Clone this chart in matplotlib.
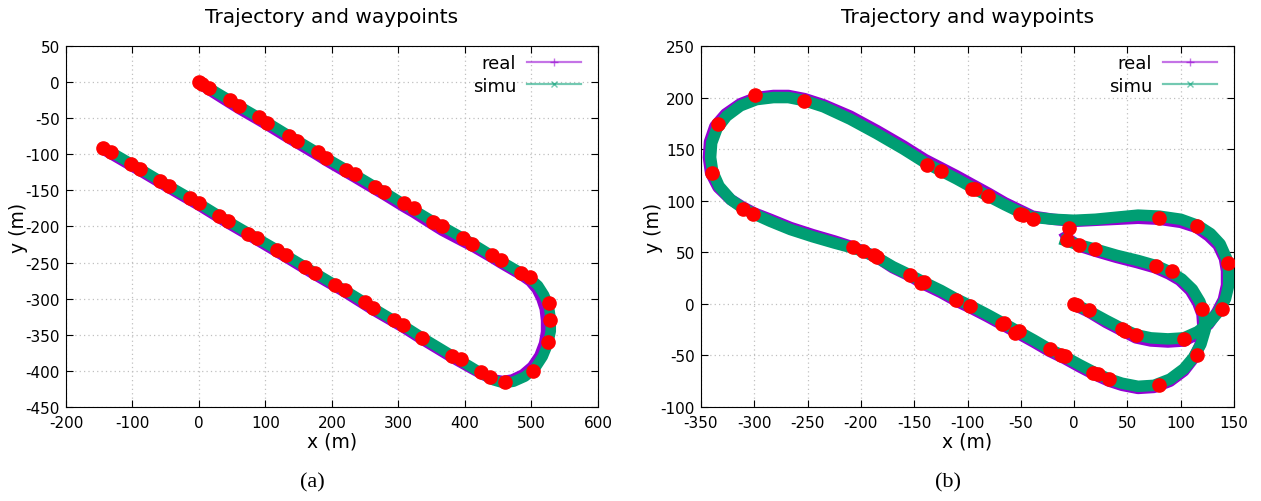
import numpy as np
import matplotlib.pyplot as plt
from matplotlib.lines import Line2D

plt.rcParams['axes.unicode_minus'] = False

### colours (gnuplot defaults)
PURPLE = '#9400d3'
GREEN = '#009e73'
RED = '#ff0000'

### (a) trajectory
simu_a_x = [0, 15, 46, 60, 90, 103, 135, 148, 179, 191, 221, 234, 265, 278, 308, 323, 352, 366, 397, 410,
            440, 454, 484, 498, 510, 519, 526, 529, 529, 525, 517, 505, 490, 473, 458, 443, 428, 410, 381,
            336, 307, 293, 262, 249, 219, 205, 174, 160, 131, 117, 87, 74, 44, 30, 0, -13, -45, -58, -89,
            -102, -132, -145]
simu_a_y = [0, -8, -25, -33, -49, -56, -74, -81, -98, -105, -121, -128, -145, -152, -169, -177, -193, -200,
            -216, -223, -240, -248, -264, -272, -282, -295, -310, -328, -345, -362, -380, -397, -408, -415,
            -417, -413, -405, -395, -379, -354, -337, -330, -313, -305, -288, -281, -264, -256, -240, -232,
            -216, -209, -193, -185, -168, -161, -144, -137, -120, -113, -97, -91]
real_a_x = [0, 15, 46, 60, 90, 103, 135, 148, 179, 191, 221, 234, 265, 278, 308, 323, 352, 366, 397, 410,
            440, 454, 484, 498, 508, 515, 520, 522, 522, 519, 512, 501, 487, 471, 457, 443, 428, 410, 381,
            336, 307, 262, 219, 174, 131, 87, 44, 0, -45, -89, -132, -145]
real_a_y = [-2, -11, -29, -37, -53, -60, -78, -85, -102, -109, -125, -132, -149, -156, -173, -181, -198,
            -206, -221, -227, -243, -251, -267, -276, -287, -300, -314, -330, -346, -362, -379, -394, -405,
            -412, -414, -412, -406, -397, -382, -357, -340, -316, -291, -267, -243, -219, -196, -171, -147,
            -123, -100, -93]
wp_a_x = [0, 5, 15, 46, 60, 90, 103, 135, 148, 179, 191, 221, 234, 265, 278, 308, 323, 352, 366, 397, 410,
          440, 454, 484, 498, 526, 528, 525, 502, 460, 437, 424, 394, 381, 336, 307, 293, 262, 249, 219,
          205, 174, 160, 131, 117, 87, 74, 44, 30, 0, -13, -45, -58, -89, -102, -132, -145]
wp_a_y = [0, -3, -8, -25, -33, -48, -56, -74, -81, -97, -105, -122, -128, -145, -152, -168, -175, -194,
          -200, -216, -224, -240, -247, -265, -270, -306, -329, -360, -400, -415, -408, -401, -384, -379,
          -354, -336, -330, -313, -305, -288, -281, -264, -256, -240, -233, -216, -210, -193, -185, -167,
          -160, -144, -137, -120, -113, -97, -91]

### (b) trajectory
simu_b_x = [0, 14, 30, 45, 58, 72, 88, 103, 116, 127, 136, 142, 145, 145, 143, 137, 128, 116, 100, 80, 60,
            40, 20, 0, -20, -39, -51, -65, -80, -96, -110, -125, -140, -160, -185, -210, -235, -253, -268,
            -282, -298, -313, -326, -335, -340, -341, -339, -333, -322, -311, -300, -285, -266, -245, -225,
            -207, -198, -185, -170, -154, -141, -125, -111, -97, -82, -66, -52, -38, -23, -9, 5, 20, 33, 45,
            60, 75, 90, 103, 112, 119, 123, 122, 118, 111, 101, 90, 77, 60, 40, 20, 5, -7, -13]
simu_b_y = [0, -7, -16, -24, -30, -33, -34, -33, -27, -18, -7, 5, 18, 32, 44, 58, 68, 76, 82, 85, 86, 84,
            82, 81, 82, 84, 89, 96, 104, 113, 121, 129, 137, 150, 165, 179, 191, 197, 200, 200, 198, 192,
            182, 170, 156, 142, 128, 114, 101, 93, 87, 80, 72, 65, 59, 54, 51, 45, 36, 28, 21, 13, 5, -2,
            -10, -19, -27, -35, -44, -51, -59, -67, -73, -77, -80, -79, -73, -63, -52, -39, -25, -10, 2, 14,
            24, 31, 37, 42, 47, 53, 57, 61, 63]
real_b_x = [0, 14, 30, 45, 58, 72, 88, 103, 116, 126, 134, 140, 143, 143, 141, 135, 126, 115, 100, 80, 60,
            40, 20, 0, -20, -39, -51, -65, -80, -96, -110, -125, -140, -160, -185, -210, -235, -253, -268,
            -282, -298, -313, -327, -337, -342, -343, -341, -334, -322, -311, -300, -285, -266, -245, -225,
            -207, -198, -185, -170, -154, -141, -125, -111, -97, -82, -66, -52, -38, -23, -9, 5, 20, 33, 45,
            60, 75, 90, 103, 112, 118, 121, 120, 116, 109, 99, 89, 76, 59, 40, 20, 5, -6, -10]
real_b_y = [-1, -8, -18, -26, -33, -36, -37, -36, -29, -20, -8, 4, 18, 32, 44, 57, 66, 74, 79, 82, 83, 82,
            81, 80, 82, 85, 91, 98, 107, 116, 124, 132, 140, 153, 168, 182, 193, 199, 202, 202, 200, 194,
            184, 172, 157, 142, 127, 113, 101, 94, 88, 82, 74, 67, 61, 55, 51, 45, 35, 27, 19, 11, 3, -4,
            -12, -21, -29, -37, -46, -53, -61, -69, -75, -79, -82, -81, -75, -65, -53, -40, -25, -10, 1, 13,
            23, 29, 35, 40, 45, 51, 56, 63, 70]
wp_b_x = [0, 3, 14, 45, 48, 58, 103, 139, 144, 115, 80, -5, -7, 5, 20, 77, 92, 120, 115, 80, 33, 22, 18,
          -9, -12, -23, -52, -55, -66, -68, -98, -111, -141, -144, -154, -185, -188, -198, -207, -301, -311,
          -340, -334, -299, -253, -138, -125, -96, -93, -81, -51, -48, -39]
wp_b_y = [0, -1, -6, -24, -26, -30, -34, -5, 40, 75, 83, 74, 62, 57, 53, 37, 32, -5, -50, -79, -73, -68,
          -67, -51, -50, -44, -26, -28, -19, -20, -2, 4, 21, 20, 28, 45, 47, 51, 55, 87, 92, 127, 174, 202,
          197, 135, 129, 111, 111, 105, 87, 86, 82]

fig = plt.figure(figsize=(12.61, 5.02), dpi=100)
ax1 = fig.add_axes([0.0523, 0.1873, 0.4219, 0.7191])
ax2 = fig.add_axes([0.5559, 0.1873, 0.4227, 0.7191])


def draw(ax, rx, ry, sx, sy, wx, wy, lw):
    ax.plot(rx, ry, color=PURPLE, lw=lw, solid_capstyle='butt', solid_joinstyle='round', zorder=3)
    ax.plot(sx, sy, color=GREEN, lw=lw, solid_capstyle='butt', solid_joinstyle='round', zorder=4)
    ax.plot(wx, wy, 'o', color=RED, ms=9.5, mec=RED, zorder=5)
    ax.set_title('Trajectory and waypoints', fontsize=14.5, pad=17)
    ax.set_xlabel('x (m)', fontsize=13.5, labelpad=1)
    ax.set_ylabel('y (m)', fontsize=13.5, labelpad=-2)
    ax.tick_params(direction='in', top=True, right=True, length=5, labelsize=11)
    ax.tick_params(axis='x', pad=5.5)
    ax.tick_params(axis='y', pad=4.5)
    ax.grid(True, linestyle=(0, (1, 2.5)), color='#c0c0c0', lw=0.9)
    ax.set_axisbelow(True)
    h = [Line2D([], [], color=PURPLE, lw=1.6, marker='+', ms=6, alpha=0.55),
         Line2D([], [], color=GREEN, lw=1.6, marker='x', ms=5, alpha=0.55)]
    ax.legend(h, ['real', 'simu'], loc='upper right', frameon=False, markerfirst=False,
              fontsize=13, handlelength=3.0, borderaxespad=0.0, labelspacing=0.25,
              handletextpad=0.6, bbox_to_anchor=(0.982, 0.997))


draw(ax1, real_a_x, real_a_y, simu_a_x, simu_a_y, wp_a_x, wp_a_y, 7.6)
ax1.set_xlim(-200, 600)
ax1.set_ylim(-450, 50)
ax1.set_xticks(np.arange(-200, 601, 100))
ax1.set_yticks(np.arange(-450, 51, 50))

draw(ax2, real_b_x, real_b_y, simu_b_x, simu_b_y, wp_b_x, wp_b_y, 8.3)
ax2.set_xlim(-350, 150)
ax2.set_ylim(-100, 250)
ax2.set_xticks(np.arange(-350, 151, 50))
ax2.set_yticks(np.arange(-100, 251, 50))

fig.text(0.248, 0.028, '(a)', family='Liberation Serif', fontsize=16, ha='center')
fig.text(0.752, 0.028, '(b)', family='Liberation Serif', fontsize=16, ha='center')

fig.savefig('out.png', dpi=100)
